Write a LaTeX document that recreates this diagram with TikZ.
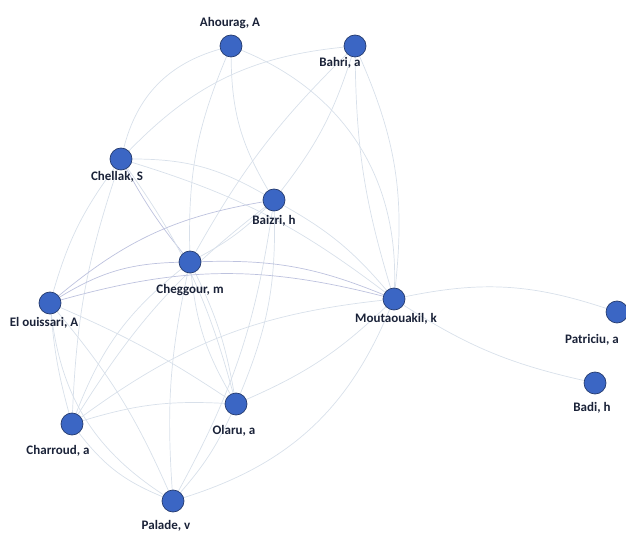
\documentclass[tikz,border=0pt]{standalone}
\usepackage{fontspec}
\setmainfont{Carlito}
\usetikzlibrary{backgrounds}
\definecolor{nodefill}{HTML}{3B66C4}
\definecolor{nodeedge}{HTML}{253B6E}
\definecolor{labelc}{HTML}{1A2238}
\definecolor{edgec}{HTML}{D8E0EA}
\definecolor{edgedark}{HTML}{BDC2DE}
\tikzset{
  author/.style={circle, fill=nodefill, draw=nodeedge, line width=0.7pt, minimum size=22pt, inner sep=0pt},
  lbl/.style={font=\bfseries\fontsize{13}{14}\selectfont, text=labelc, inner sep=1pt},
  link/.style={draw=edgec, line width=0.7pt},
  linkd/.style={draw=edgedark, line width=0.7pt}
}
\begin{document}
\begin{tikzpicture}[x=1pt,y=-1pt]
\useasboundingbox (0,0) rectangle (626,534);
% authors
\node[author] (ah) at (231,46) {};
\node[author] (ba) at (355,46) {};
\node[author] (ch) at (121,159) {};
\node[author] (bz) at (274,200) {};
\node[author] (cg) at (190,262) {};
\node[author] (eo) at (50,303) {};
\node[author] (mo) at (394,299) {};
\node[author] (cr) at (72,424) {};
\node[author] (ol) at (236,404) {};
\node[author] (pa) at (173,501) {};
\node[author] (pt) at (617,312) {};
\node[author] (bd) at (595,383) {};
% labels
\node[lbl] (ahl) at (230,23) {Ahourag, A};
\node[lbl] (bal) at (340,63) {Bahri, a};
\node[lbl] (chl) at (117,177) {Chellak, S};
\node[lbl] (bzl) at (274,221) {Baizri, h};
\node[lbl] (cgl) at (190,290) {Cheggour, m};
\node[lbl] (eol) at (44,323) {El ouissari, A};
\node[lbl] (mol) at (396,319) {Moutaouakil, k};
\node[lbl] (crl) at (58,451) {Charroud, a};
\node[lbl] (oll) at (234,431) {Olaru, a};
\node[lbl] (pal) at (166,526) {Palade, v};
\node[lbl] (ptl) at (592,340) {Patriciu, a};
\node[lbl] (bdl) at (592,408) {Badi, h};
% connectors
\begin{scope}[on background layer]
\draw[link] (ah) to[bend right=30] (ch);
\draw[link] (ah) to[bend right=12] (cg);
\draw[link] (ah) to[bend right=15] (bz);
\draw[link] (ah) to[bend left=35] (mo);
\draw[link] (ba) to[bend right=20] (ch);
\draw[link] (ba) to[bend left=10] (bz);
\draw[link] (ba) to[bend right=8] (cg);
\draw[link] (ba) to[bend left=15] (mo);
\draw[link] (ba) to[bend right=8] (mo);
\draw[link] (ch) to[bend left=15] (bz);
\draw[linkd] (ch) to[bend right=5] (cg);
\draw[link] (ch) to[bend left=10] (mo);
\draw[link] (ch) to[bend right=10] (eo);
\draw[link] (ch) to[bend right=8] (cr);
\draw[link] (ch) to[bend left=10] (ol);
\draw[link] (bz) to[bend left=8] (cg);
\draw[linkd] (bz) to[bend right=15] (eo);
\draw[link] (bz) to[bend left=10] (mo);
\draw[link] (bz) to[bend left=12] (ol);
\draw[link] (bz) to[bend left=10] (pa);
\draw[link] (bz) to[bend right=10] (cr);
\draw[linkd] (cg) to[bend right=15] (eo);
\draw[linkd] (cg) to[bend left=12] (mo);
\draw[link] (cg) to[bend right=12] (ol);
\draw[link] (cg) to[bend left=8] (ol);
\draw[link] (cg) to[bend right=8] (pa);
\draw[link] (cg) to[bend right=15] (cr);
\draw[linkd] (eo) to[bend left=15] (mo);
\draw[link] (eo) to[bend left=5] (ol);
\draw[link] (eo) to[bend left=8] (pa);
\draw[link] (eo) to[bend right=25] (pa);
\draw[link] (eo) to[bend right=5] (cr);
\draw[link] (cr) to[bend left=10] (ol);
\draw[link] (cr) to[bend right=15] (pa);
\draw[link] (cr) to[bend left=15] (mo);
\draw[link] (ol) to[bend left=8] (pa);
\draw[link] (ol) to[bend right=10] (mo);
\draw[link] (pa) to[bend right=25] (mo);
\draw[link] (mo) to[bend left=15] (pt);
\draw[link] (mo) to[bend right=10] (bd);
\end{scope}
\end{tikzpicture}
\end{document}
